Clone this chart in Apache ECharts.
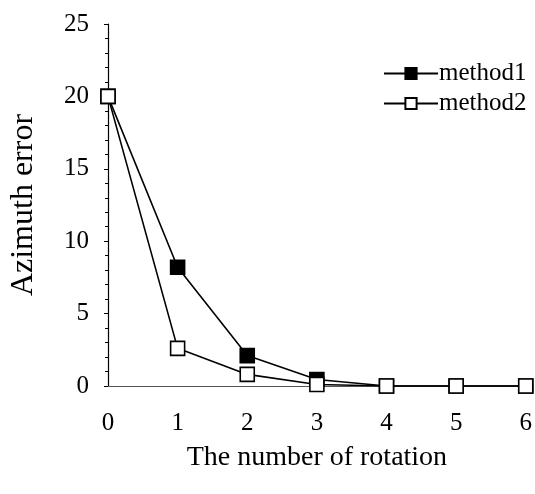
<!DOCTYPE html>
<html>
<head>
<meta charset="utf-8">
<script src="https://cdn.jsdelivr.net/npm/echarts@6/dist/echarts.min.js"></script>
<style>
  html, body { margin: 0; padding: 0; background: #fff; }
  #chart { width: 535px; height: 494px; }
</style>
</head>
<body>
<div id="chart"></div>
<script>
// rotation count on x, azimuth error on y
const rotations = ["0", "1", "2", "3", "4", "5", "6"];
const method1 = [20, 8.2, 2.1, 0.45, 0, 0, 0];
const method2 = [20, 2.6, 0.8, 0.1, 0, 0, 0];
const seriesNames = ["method1", "method2"];

(function () {
  const chart = echarts.init(document.getElementById("chart"));
  const font = "'Liberation Serif', 'DejaVu Serif', serif";

  function lineSeries(name, data, fill) {
    return {
      name: name,
      type: "line",
      data: data,
      symbol: "rect",
      symbolSize: 14,
      lineStyle: { color: "#000", width: 1.6 },
      itemStyle: { color: fill, borderColor: "#000", borderWidth: 1.6 },
      emphasis: { disabled: true },
      animation: false,
    };
  }

  chart.setOption({
    backgroundColor: "#fff",
    textStyle: { fontFamily: font, color: "#000" },
    grid: { left: 108, right: 8, top: 24, bottom: 108, containLabel: false },
    legend: {
      orient: "vertical",
      left: 378,
      top: 56,
      itemWidth: 54,
      itemHeight: 14,
      itemGap: 5,
      textStyle: { fontFamily: font, fontSize: 25, color: "#000", padding: [0, 0, 0, -4] },
      data: seriesNames,
    },
    xAxis: {
      type: "category",
      data: rotations,
      boundaryGap: false,
      name: "The number of rotation",
      nameLocation: "middle",
      nameGap: 58,
      nameTextStyle: { fontFamily: font, fontSize: 28, color: "#000" },
      axisLine: { lineStyle: { color: "#555", width: 1 } },
      axisTick: { show: false },
      axisLabel: { fontFamily: font, fontSize: 25, color: "#000", margin: 25 },
      splitLine: { show: false },
    },
    yAxis: {
      type: "value",
      min: 0,
      max: 25,
      interval: 5,
      name: "Azimuth error",
      nameLocation: "middle",
      nameGap: 68,
      nameTextStyle: { fontFamily: font, fontSize: 32, color: "#000" },
      axisLine: { show: true, lineStyle: { color: "#000", width: 1.2 } },
      axisTick: { show: true, length: 4, lineStyle: { color: "#000" } },
      minorTick: { show: true, splitNumber: 5, length: 3, lineStyle: { color: "#000" } },
      axisLabel: { fontFamily: font, fontSize: 25, color: "#000", margin: 19 },
      splitLine: { show: false },
    },
    series: [
      lineSeries(seriesNames[0], method1, "#000"),
      lineSeries(seriesNames[1], method2, "#fff"),
    ],
  });
})();
</script>
</body>
</html>
